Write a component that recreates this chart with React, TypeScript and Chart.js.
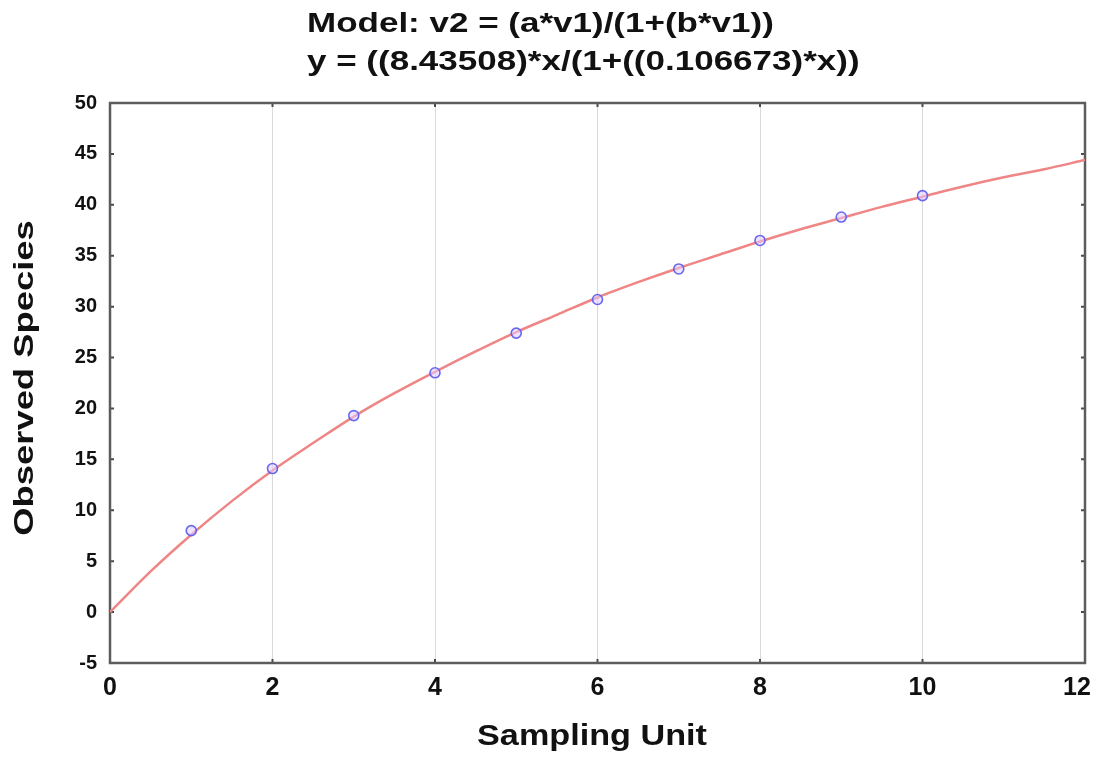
import React, { useEffect, useRef } from "react";
import { Chart, registerables } from "chart.js";

Chart.register(...registerables);

// ---- text ----
const titleLines = ["Model: v2 = (a*v1)/(1+(b*v1))", "y = ((8.43508)*x/(1+((0.106673)*x))"];
const xAxisTitle = "Sampling Unit";
const yAxisTitle = "Observed Species";

// ---- observed points ----
const samplingUnits = [1, 2, 3, 4, 5, 6, 7, 8, 9, 10];
const observedSpecies = [8.0, 14.1, 19.3, 23.5, 27.4, 30.7, 33.7, 36.5, 38.8, 40.9];

// ---- fitted curve ----
const fitX = [0, 0.5, 1, 1.5, 2, 2.5, 3, 3.5, 4, 4.5, 5, 5.5, 6, 6.5, 7, 7.5, 8, 8.5, 9, 9.5, 10, 10.5, 11, 11.5, 12];
const fitY = [0, 4.0, 7.6, 10.9, 13.9, 16.6, 19.2, 21.5, 23.6, 25.6, 27.5, 29.2, 30.9, 32.4, 33.8, 35.1, 36.4, 37.6, 38.7, 39.8, 40.8, 41.8, 42.7, 43.5, 44.4];

// ---- axes ----
const xMin = 0;
const xMax = 12;
const xStep = 2;
const yMin = -5;
const yMax = 50;
const yStep = 5;

const FONT = '"Liberation Sans", Arial, sans-serif';
const TEXT = "#111111";

const framePlugin = {
  id: "framePlugin",
  beforeDraw(chart: any) {
    const { ctx, width, height } = chart;
    ctx.save();
    ctx.fillStyle = "#ffffff";
    ctx.fillRect(0, 0, width, height);
    ctx.restore();
    // keep the last x label ("12") inside the canvas, as in the reference
    try {
      const xs = chart.scales.x;
      const items = xs.getLabelItems(chart.chartArea);
      const last = items && items[items.length - 1];
      if (last && last.options && last.options.translation && !last.__shifted) {
        last.options.translation[0] -= 8;
        last.__shifted = true;
      }
    } catch (e) {
      /* ignore */
    }
  },
  beforeDatasetsDraw(chart: any) {
    const { ctx, chartArea } = chart;
    const { left, right, top, bottom } = chartArea;
    const xs = chart.scales.x;
    const ys = chart.scales.y;
    ctx.save();
    // inner tick marks
    ctx.strokeStyle = "#4a4a4a";
    ctx.lineWidth = 2;
    ctx.beginPath();
    ys.ticks.forEach((t: any) => {
      const y = ys.getPixelForValue(t.value);
      ctx.moveTo(left, y);
      ctx.lineTo(left + 4, y);
      ctx.moveTo(right - 4, y);
      ctx.lineTo(right, y);
    });
    xs.ticks.forEach((t: any) => {
      const x = xs.getPixelForValue(t.value);
      ctx.moveTo(x, bottom);
      ctx.lineTo(x, bottom - 4);
      ctx.moveTo(x, top);
      ctx.lineTo(x, top + 4);
    });
    ctx.stroke();
    // frame
    ctx.strokeStyle = "#5c5c5c";
    ctx.lineWidth = 2.5;
    ctx.strokeRect(left, top, right - left, bottom - top);
    ctx.restore();
  },
  afterDraw(chart: any) {
    const { ctx } = chart;
    ctx.save();
    ctx.fillStyle = TEXT;
    // main title (two left-aligned lines, wide glyphs)
    ctx.font = `bold 28px ${FONT}`;
    ctx.textAlign = "left";
    ctx.textBaseline = "alphabetic";
    const baselines = [32, 70];
    titleLines.forEach((line, i) => {
      ctx.save();
      ctx.translate(307, baselines[i]);
      ctx.scale(1.25, 1);
      ctx.fillText(line, 0, 0);
      ctx.restore();
    });
    // x axis title
    ctx.save();
    ctx.font = `bold 30px ${FONT}`;
    ctx.textAlign = "center";
    ctx.translate(592, 745);
    ctx.scale(1.14, 1);
    ctx.fillText(xAxisTitle, 0, 0);
    ctx.restore();
    // y axis title
    ctx.save();
    ctx.font = `bold 28px ${FONT}`;
    ctx.textAlign = "center";
    ctx.translate(33, 378);
    ctx.rotate(-Math.PI / 2);
    ctx.scale(1.3, 1);
    ctx.fillText(yAxisTitle, 0, 0);
    ctx.restore();
    ctx.restore();
  },
};

export default function App() {
  const canvasRef = useRef<HTMLCanvasElement | null>(null);

  useEffect(() => {
    if (!canvasRef.current) return;
    const chart = new Chart(canvasRef.current, {
      type: "scatter",
      data: {
        datasets: [
          {
            label: "Observed",
            data: samplingUnits.map((x, i) => ({ x, y: observedSpecies[i] })),
            showLine: false,
            pointStyle: "circle",
            pointRadius: 5,
            pointBorderWidth: 1.6,
            pointBorderColor: "rgba(95, 95, 240, 0.95)",
            pointBackgroundColor: "rgba(225, 205, 255, 0.55)",
            order: 0,
          },
          {
            label: "Model",
            data: fitX.map((x, i) => ({ x, y: fitY[i] })),
            showLine: true,
            borderColor: "#ef8585",
            borderWidth: 2.5,
            pointRadius: 0,
            cubicInterpolationMode: "monotone",
            fill: false,
            order: 1,
          },
        ],
      },
      options: {
        responsive: false,
        animation: false,
        layout: { padding: { top: 103, right: 9, left: 0, bottom: 0 } },
        plugins: {
          legend: { display: false },
          title: { display: false },
          tooltip: { enabled: false },
        },
        scales: {
          x: {
            type: "linear",
            min: xMin,
            max: xMax,
            ticks: {
              stepSize: xStep,
              padding: 10,
              color: TEXT,
              font: { family: FONT, size: 25, weight: "bold" },
            },
            grid: {
              display: true,
              drawTicks: false,
              color: (c: any) => (c.tick && (c.tick.value === xMin || c.tick.value === xMax) ? "rgba(0,0,0,0)" : "#d9d9d9"),
              lineWidth: 1,
            },
            border: { display: false },
            afterFit: (s: any) => {
              s.height = 99;
              s.paddingLeft = 0;
              s.paddingRight = 0;
            },
          },
          y: {
            type: "linear",
            min: yMin,
            max: yMax,
            ticks: {
              stepSize: yStep,
              padding: 13,
              color: TEXT,
              font: { family: FONT, size: 20, weight: "bold" },
            },
            grid: { display: false, drawTicks: false },
            border: { display: false },
            afterFit: (s: any) => {
              s.width = 110;
              s.paddingTop = 0;
              s.paddingBottom = 0;
            },
          },
        },
      },
      plugins: [framePlugin],
    } as any);
    return () => chart.destroy();
  }, []);

  return (
    <div style={{ position: "absolute", left: 0, top: 0, width: 1094, height: 762, background: "#fff" }}>
      <canvas ref={canvasRef} width={1094} height={762} style={{ display: "block" }} />
    </div>
  );
}
